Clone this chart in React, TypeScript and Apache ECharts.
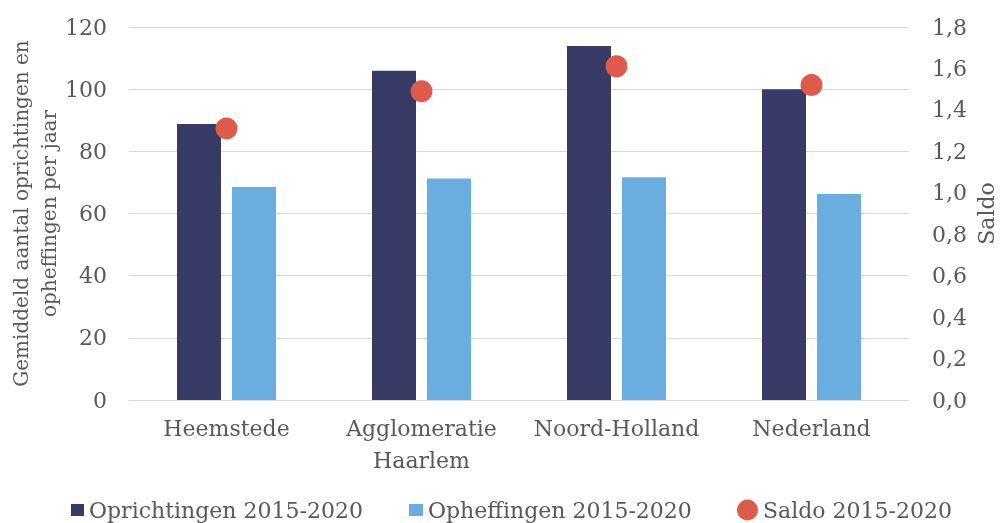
import React, { useEffect, useRef } from "react";
import * as echarts from "echarts";

const categories = ["Heemstede", "Agglomeratie\nHaarlem", "Noord-Holland", "Nederland"];
const oprichtingen = [88.8, 105.9, 113.9, 100.0];
const opheffingen = [68.5, 71.3, 71.7, 66.3];
const saldo = [1.31, 1.49, 1.61, 1.52];
const seriesNames = ["Oprichtingen 2015-2020", "Opheffingen 2015-2020", "Saldo 2015-2020"];
const leftAxisName = "Gemiddeld aantal oprichtingen en\nopheffingen per jaar";
const rightAxisName = "Saldo";

const FONT = "DejaVu Serif";
const TXT = "#595959";
const C_DARK = "#373b66";
const C_LIGHT = "#6aade0";
const C_RED = "#de5a4a";

export default function App() {
  const ref = useRef<HTMLDivElement>(null);
  useEffect(() => {
    const chart = echarts.init(ref.current!, null, { renderer: "svg" });
    const legendText = { fontFamily: FONT, fontSize: 22, color: TXT };
    chart.setOption({
      animation: false,
      textStyle: { fontFamily: FONT },
      grid: { left: 129, right: 91, top: 27, bottom: 123, containLabel: false, outerBoundsMode: "none" },
      legend: [
        {
          data: [{ name: seriesNames[0], icon: "rect" }],
          left: 71, top: 499, padding: 0, itemWidth: 13, itemHeight: 12, itemGap: 0,
          textStyle: legendText, selectedMode: false,
        },
        {
          data: [{ name: seriesNames[1], icon: "rect" }],
          left: 409, top: 499, padding: 0, itemWidth: 14, itemHeight: 12, itemGap: 0,
          textStyle: legendText, selectedMode: false,
        },
        {
          data: [{ name: seriesNames[2], icon: "circle" }],
          left: 737, top: 499, padding: 0, itemWidth: 21, itemHeight: 21, itemGap: 0,
          textStyle: legendText, selectedMode: false,
        },
      ],
      xAxis: {
        type: "category",
        data: categories,
        axisTick: { show: false },
        axisLine: { lineStyle: { color: "#d9d9d9", width: 1 } },
        axisLabel: { fontFamily: FONT, fontSize: 22, color: TXT, margin: 12, lineHeight: 32, interval: 0 },
      },
      yAxis: [
        {
          type: "value", min: 0, max: 120, interval: 20,
          name: leftAxisName, nameLocation: "middle", nameGap: 66, nameMoveOverlap: false,
          nameTextStyle: { fontFamily: FONT, fontSize: 20, color: TXT, lineHeight: 28 },
          axisLabel: { fontFamily: FONT, fontSize: 22, color: TXT, margin: 22 },
          splitLine: { lineStyle: { color: "#d9d9d9", width: 1 } },
          axisLine: { show: false }, axisTick: { show: false },
        },
        {
          type: "value", min: 0, max: 1.8, interval: 0.2,
          name: rightAxisName, nameLocation: "middle", nameGap: 66, nameMoveOverlap: false,
          nameTextStyle: { fontFamily: FONT, fontSize: 22, color: TXT },
          axisLabel: {
            fontFamily: FONT, fontSize: 22, color: TXT, margin: 23,
            formatter: (v: number) => v.toFixed(1).replace(".", ","),
          },
          splitLine: { show: false }, axisLine: { show: false }, axisTick: { show: false },
        },
      ],
      series: [
        { name: seriesNames[0], type: "bar", data: oprichtingen, barWidth: 44, barGap: "25%", itemStyle: { color: C_DARK } },
        { name: seriesNames[1], type: "bar", data: opheffingen, barWidth: 44, barGap: "25%", itemStyle: { color: C_LIGHT } },
        { name: seriesNames[2], type: "scatter", yAxisIndex: 1, data: saldo, symbolSize: 22, itemStyle: { color: C_RED, opacity: 1 } },
      ],
    });
    return () => chart.dispose();
  }, []);
  return <div ref={ref} style={{ width: 1000, height: 523, position: "fixed", left: 0, top: 0 }} />;
}
